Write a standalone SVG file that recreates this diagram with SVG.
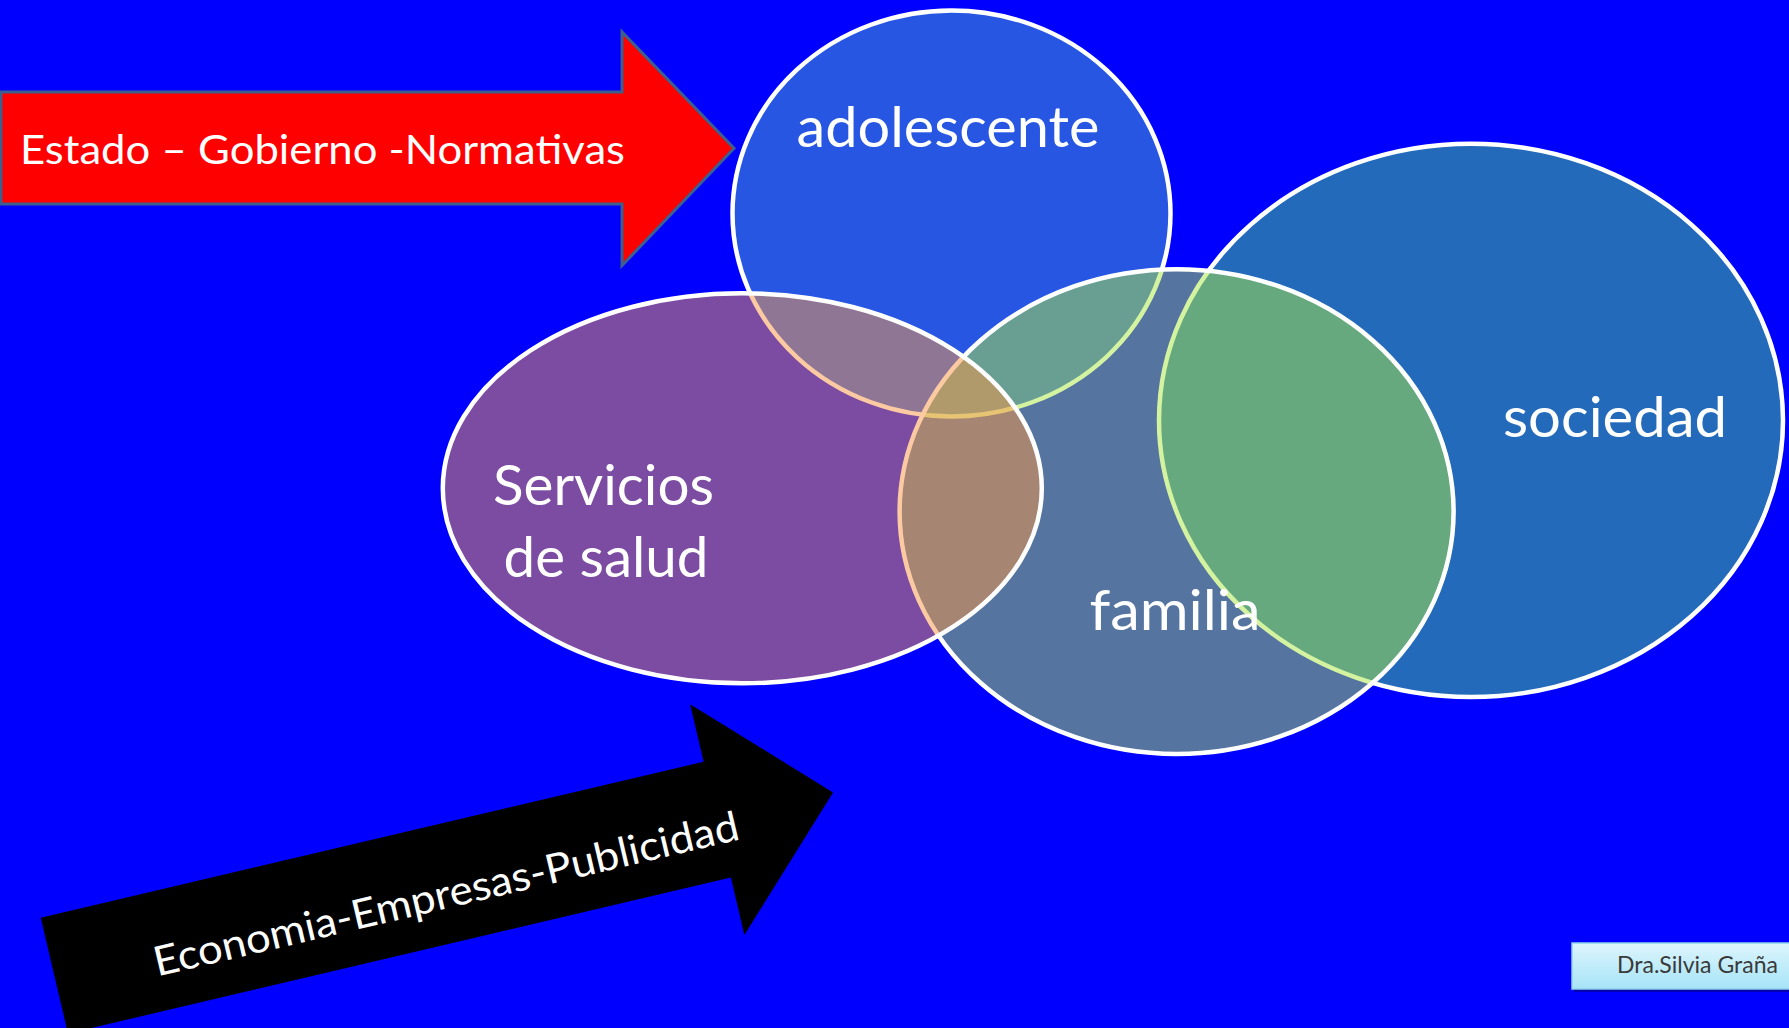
<svg xmlns="http://www.w3.org/2000/svg" width="1789" height="1028" viewBox="0 0 1789 1028">
  <defs>
    <style>
      .bg { fill: #0000FF; }
      .venn { stroke: #FFFFFF; stroke-width: 4.5; }
      .lbl { font-family: Lato, "Open Sans", "Liberation Sans", sans-serif; fill: #FFFFFF; font-size: 57px; text-anchor: middle; }
      .arrowtxt { font-family: Lato, "Open Sans", "Liberation Sans", sans-serif; fill: #FFFFFF; font-size: 41px; }
    </style>
    <linearGradient id="badgeGrad" x1="0" y1="0" x2="0" y2="1">
      <stop offset="0" stop-color="#DDF5FC"/>
      <stop offset="1" stop-color="#A6E4F7"/>
    </linearGradient>
  </defs>

  <rect class="bg" x="0" y="0" width="1789" height="1028"/>

  <g id="node-adolescente">
    <ellipse class="venn" cx="951.5" cy="213.5" rx="219" ry="203" fill="#4BACC6" fill-opacity="0.5"/>
  </g>
  <g id="node-sociedad">
    <ellipse class="venn" cx="1471" cy="420.4" rx="312" ry="276.6" fill="#46D675" fill-opacity="0.5"/>
  </g>
  <g id="node-familia">
    <ellipse class="venn" cx="1176.6" cy="511.6" rx="277" ry="242.4" fill="#A9E742" fill-opacity="0.5"/>
  </g>
  <g id="node-servicios">
    <ellipse class="venn" cx="742.3" cy="488.3" rx="299.5" ry="195" fill="#F79646" fill-opacity="0.5"/>
  </g>

  <g id="labels">
    <text class="lbl" x="948" y="146.5" textLength="303" lengthAdjust="spacingAndGlyphs">adolescente</text>
    <text class="lbl" x="1615" y="437" textLength="224" lengthAdjust="spacingAndGlyphs">sociedad</text>
    <text class="lbl" x="1175" y="630" textLength="171" lengthAdjust="spacingAndGlyphs">familia</text>
    <text class="lbl" x="603.5" y="505" font-size="55" textLength="221" lengthAdjust="spacingAndGlyphs">Servicios</text>
    <text class="lbl" x="606" y="576.5" font-size="55" textLength="205" lengthAdjust="spacingAndGlyphs">de salud</text>
  </g>

  <g id="connectors">
    <g id="arrow-estado">
      <polygon points="1,92 622,92 622,32 734,148.3 622,265.5 622,204 1,204" fill="#FF0000" stroke="#3D5F8E" stroke-width="3" stroke-linejoin="miter"/>
      <text class="arrowtxt" x="20" y="164" textLength="605" lengthAdjust="spacingAndGlyphs">Estado – Gobierno -Normativas</text>
    </g>
    <g id="arrow-economia" transform="translate(40.7,917.7) rotate(-13.24)">
      <polygon points="0,0 681,0 681,-59 800,59.5 681,178 681,119 0,119" fill="#000000"/>
      <text class="arrowtxt" x="400" y="84" text-anchor="middle" textLength="600" lengthAdjust="spacingAndGlyphs">Economia-Empresas-Publicidad</text>
    </g>
  </g>

  <g id="badge">
    <rect x="1574" y="945" width="220" height="47" fill="#0000B0"/>
    <rect x="1572" y="943" width="220" height="46" fill="url(#badgeGrad)" stroke="#8FD3EA" stroke-width="1.5"/>
    <text x="1617" y="973" font-family="Lato, 'Open Sans', 'Liberation Sans', sans-serif" font-size="23" fill="#3A3A3A" textLength="161" lengthAdjust="spacingAndGlyphs">Dra.Silvia Graña</text>
  </g>
</svg>
